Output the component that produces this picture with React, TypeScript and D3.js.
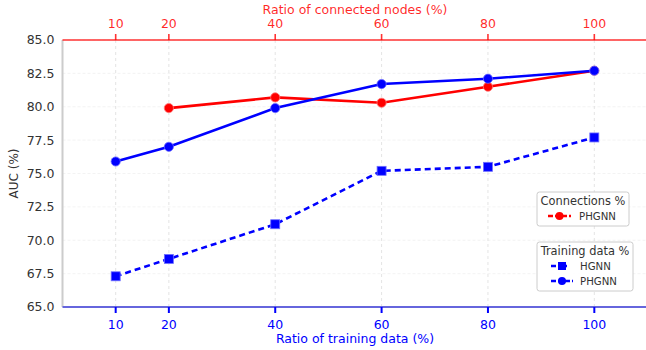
import * as d3 from "d3";

// --- data ---
const ticksX = [10, 20, 40, 60, 80, 100];
const ticksY = [65, 67.5, 70, 72.5, 75, 77.5, 80, 82.5, 85];

const connX = [20, 40, 60, 80, 100];
const connPHGNN = [79.9, 80.7, 80.3, 81.5, 82.7];

const trainX = [10, 20, 40, 60, 80, 100];
const trainPHGNN = [75.9, 77.0, 79.9, 81.7, 82.1, 82.7];
const trainHGNN = [67.3, 68.6, 71.2, 75.2, 75.5, 77.7];

const W = 646;
const H = 350;
const margin = { left: 62.5, right: -1.5, top: 40, bottom: 43 };
const RED = "#ff0000";
const BLUE = "#0000ff";
const FONT = "DejaVu Sans, sans-serif";

export default function App() {
  const x = d3.scaleLinear().domain([0, 110]).range([margin.left, W - margin.right]);
  const y = d3.scaleLinear().domain([65, 85]).range([H - margin.bottom, margin.top]);

  const line = (xs: number[], ys: number[]) =>
    d3
      .line<number>()
      .x((_, i) => x(xs[i]))
      .y((d) => y(d))(ys) ?? "";

  const x0 = x.range()[0];
  const x1 = x.range()[1];
  const yTop = y(85);
  const yBot = y(65);

  return (
    <svg
      width={W}
      height={H}
      style={{ position: "absolute", left: 0, top: 0, fontFamily: FONT }}
    >
      <rect width={W} height={H} fill="#fff" />

      {/* grid */}
      {ticksY.map((t) => (
        <line key={"gy" + t} x1={x0} x2={x1} y1={y(t)} y2={y(t)} stroke="#f0f0f0" strokeWidth={0.8} strokeDasharray="3,2" />
      ))}
      {ticksX.map((t) => (
        <line key={"gx" + t} x1={x(t)} x2={x(t)} y1={yTop} y2={yBot} stroke="#dddddd" strokeWidth={0.8} strokeDasharray="3,3" />
      ))}

      {/* spines */}
      <line x1={x0} x2={x0} y1={yTop} y2={yBot} stroke="#cccccc" strokeWidth={2} />
      <line x1={x0} x2={x1} y1={yTop} y2={yTop} stroke={RED} strokeOpacity={0.8} strokeWidth={1.6} />
      <line x1={x0} x2={x1} y1={yBot} y2={yBot} stroke="#6666dd" strokeWidth={2} />

      {/* y tick labels */}
      {ticksY.map((t) => (
        <text key={"ty" + t} x={x0 - 8} y={y(t)} dy="0.35em" textAnchor="end" fontSize={12.5} fill="#333">
          {t.toFixed(1)}
        </text>
      ))}
      <text
        transform={`translate(18,${(yTop + yBot) / 2}) rotate(-90)`}
        textAnchor="middle"
        fontSize={12}
        fill="#333"
      >
        AUC (%)
      </text>

      {/* bottom axis */}
      {ticksX.map((t) => (
        <g key={"tb" + t}>
          <line x1={x(t)} x2={x(t)} y1={yBot} y2={yBot + 6} stroke={BLUE} strokeWidth={2} />
          <text x={x(t)} y={yBot + 21.5} textAnchor="middle" fontSize={12.5} fill={BLUE}>
            {t}
          </text>
        </g>
      ))}
      <text x={(x0 + x1) / 2} y={H - 7.5} textAnchor="middle" fontSize={12.5} fill={BLUE}>
        Ratio of training data (%)
      </text>

      {/* top axis */}
      {ticksX.map((t) => (
        <g key={"tt" + t}>
          <line x1={x(t)} x2={x(t)} y1={yTop} y2={yTop - 6} stroke={RED} strokeOpacity={0.8} strokeWidth={1.6} />
          <text x={x(t)} y={yTop - 12.5} textAnchor="middle" fontSize={12.5} fill={RED} fillOpacity={0.85}>
            {t}
          </text>
        </g>
      ))}
      <text x={(x0 + x1) / 2} y={14} textAnchor="middle" fontSize={12.5} fill={RED} fillOpacity={0.85}>
        Ratio of connected nodes (%)
      </text>

      {/* series */}
      <path d={line(trainX, trainHGNN)} fill="none" stroke={BLUE} strokeWidth={2.6} strokeDasharray="6,4" />
      {trainHGNN.map((v, i) => (
        <rect key={"hs" + i} x={x(trainX[i]) - 4.5} y={y(v) - 4.5} width={9} height={9} fill={BLUE} stroke="#6f6fff" strokeWidth={0.8} />
      ))}

      <path d={line(connX, connPHGNN)} fill="none" stroke={RED} strokeWidth={2.6} />
      {connPHGNN.map((v, i) => (
        <circle key={"cp" + i} cx={x(connX[i])} cy={y(v)} r={4.6} fill={RED} stroke="#ff7777" strokeWidth={0.8} />
      ))}

      <path d={line(trainX, trainPHGNN)} fill="none" stroke={BLUE} strokeWidth={2.6} />
      {trainPHGNN.map((v, i) => (
        <circle key={"tp" + i} cx={x(trainX[i])} cy={y(v)} r={4.6} fill={BLUE} stroke="#6f6fff" strokeWidth={0.8} />
      ))}

      {/* legend: connections */}
      <g>
        <rect x={537} y={192} width={92} height={34} rx={2.5} fill="#fff" fillOpacity={0.9} stroke="#cccccc" />
        <text x={583} y={205} textAnchor="middle" fontSize={11.4} fill="#333">Connections %</text>
        <line x1={548} x2={571} y1={216} y2={216} stroke={RED} strokeWidth={2.4} strokeDasharray="5,2" />
        <circle cx={559.5} cy={216} r={4} fill={RED} />
        <text x={579} y={219.5} fontSize={10.2} fill="#333">PHGNN</text>
      </g>

      {/* legend: training data */}
      <g>
        <rect x={537} y={242} width={96} height={49} rx={2.5} fill="#fff" fillOpacity={0.9} stroke="#cccccc" />
        <text x={585} y={255} textAnchor="middle" fontSize={11.4} fill="#333">Training data %</text>
        <line x1={551} x2={567} y1={266} y2={266} stroke={BLUE} strokeWidth={2.4} strokeDasharray="5,2" />
        <rect x={558} y={262} width={8} height={8} fill={BLUE} />
        <text x={580} y={269.5} fontSize={10.2} fill="#333">HGNN</text>
        <line x1={551} x2={573} y1={281} y2={281} stroke={BLUE} strokeWidth={2.4} strokeDasharray="5,2" />
        <circle cx={562} cy={281} r={4} fill={BLUE} />
        <text x={580} y={284.5} fontSize={10.2} fill="#333">PHGNN</text>
      </g>
    </svg>
  );
}
